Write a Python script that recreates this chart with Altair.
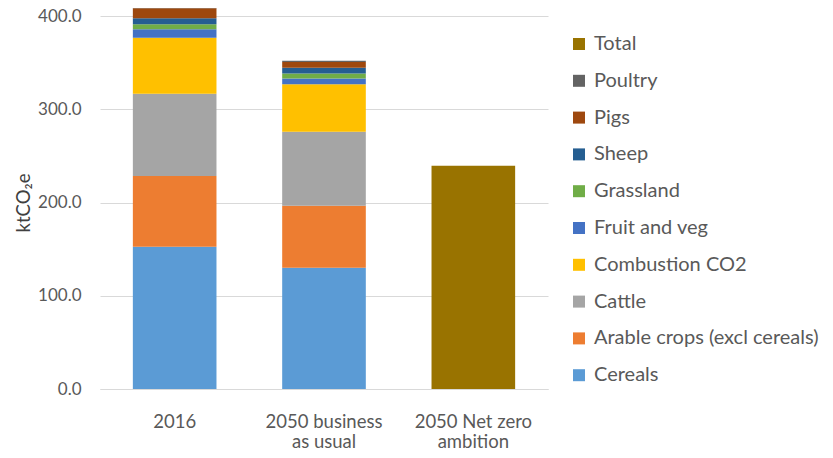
import altair as alt
import pandas as pd

scenarios = ["2016", "2050 business as usual", "2050 Net zero ambition"]
scenario_lines = {
    "2016": ["2016"],
    "2050 business as usual": ["2050 business", "as usual"],
    "2050 Net zero ambition": ["2050 Net zero", "ambition"],
}
# legend order (top to bottom)
sources = ["Total", "Poultry", "Pigs", "Sheep", "Grassland", "Fruit and veg",
           "Combustion CO2", "Cattle", "Arable crops (excl cereals)", "Cereals"]
colors = ["#997300", "#636363", "#9E480E", "#255E91", "#70AD47", "#4472C4",
          "#FFC000", "#A5A5A5", "#ED7D31", "#5B9BD5"]

# stack order bottom -> top
stack_sources = ["Cereals", "Arable crops (excl cereals)", "Cattle", "Combustion CO2",
                 "Fruit and veg", "Grassland", "Sheep", "Pigs", "Poultry"]
vals_2016 = [152.5, 76.0, 88.0, 60.3, 9.0, 5.4, 6.4, 10.8, 1.4]
vals_bau = [130.0, 66.5, 79.3, 51.1, 6.0, 5.4, 6.1, 6.4, 1.1]
total_netzero = 239.4

rows = []
for i, (s, v) in enumerate(zip(stack_sources, vals_2016)):
    rows.append({"scenario": scenarios[0], "source": s, "value": v, "ord": i})
for i, (s, v) in enumerate(zip(stack_sources, vals_bau)):
    rows.append({"scenario": scenarios[1], "source": s, "value": v, "ord": i})
rows.append({"scenario": scenarios[2], "source": "Total", "value": total_netzero, "ord": 0})
df = pd.DataFrame(rows)

label_expr = "{" + ",".join(
    f"'{k}': [" + ",".join(f"'{l}'" for l in v) + "]" for k, v in scenario_lines.items()
) + "}[datum.value]"

FONT = "Lato"
GREY = "#595959"

chart = alt.Chart(df).mark_bar().encode(
    x=alt.X("scenario:N", sort=scenarios,
            scale=alt.Scale(paddingInner=0.44, paddingOuter=0.22),
            axis=alt.Axis(title=None, labelAngle=0, labelExpr=label_expr,
                          labelFontSize=18.5, labelColor=GREY, labelFont=FONT,
                          labelPadding=23, ticks=False, domainColor="#D9D9D9",
                          labelLineHeight=20, grid=False)),
    y=alt.Y("value:Q", stack="zero",
            scale=alt.Scale(domain=[0, 400], nice=False),
            axis=alt.Axis(title="ktCO₂e", format=".1f", values=[0, 100, 200, 300, 400],
                          labelFontSize=17, labelColor=GREY, labelFont=FONT,
                          labelPadding=19, ticks=False, domain=False,
                          gridColor="#D9D9D9", titleFont=FONT, titleFontSize=18.5,
                          titleFontWeight="normal", titleColor="#404040",
                          titlePadding=4)),
    color=alt.Color("source:N", scale=alt.Scale(domain=sources, range=colors),
                    legend=alt.Legend(title=None, orient="none", legendX=469, legendY=18,
                                      symbolType="square", symbolSize=144,
                                      symbolStrokeWidth=0, labelFontSize=20,
                                      labelFont=FONT, labelColor=GREY,
                                      rowPadding=16.8, labelOffset=5, labelLimit=300)),
    order=alt.Order("ord:Q", sort="ascending"),
).properties(
    width=448, height=373,
    autosize=alt.AutoSizeParams(type="none"),
    padding={"left": 92, "top": 8, "right": 276, "bottom": 61},
).configure_view(stroke=None)

chart.save("out.html", embed_options={"renderer": "svg", "actions": False})
